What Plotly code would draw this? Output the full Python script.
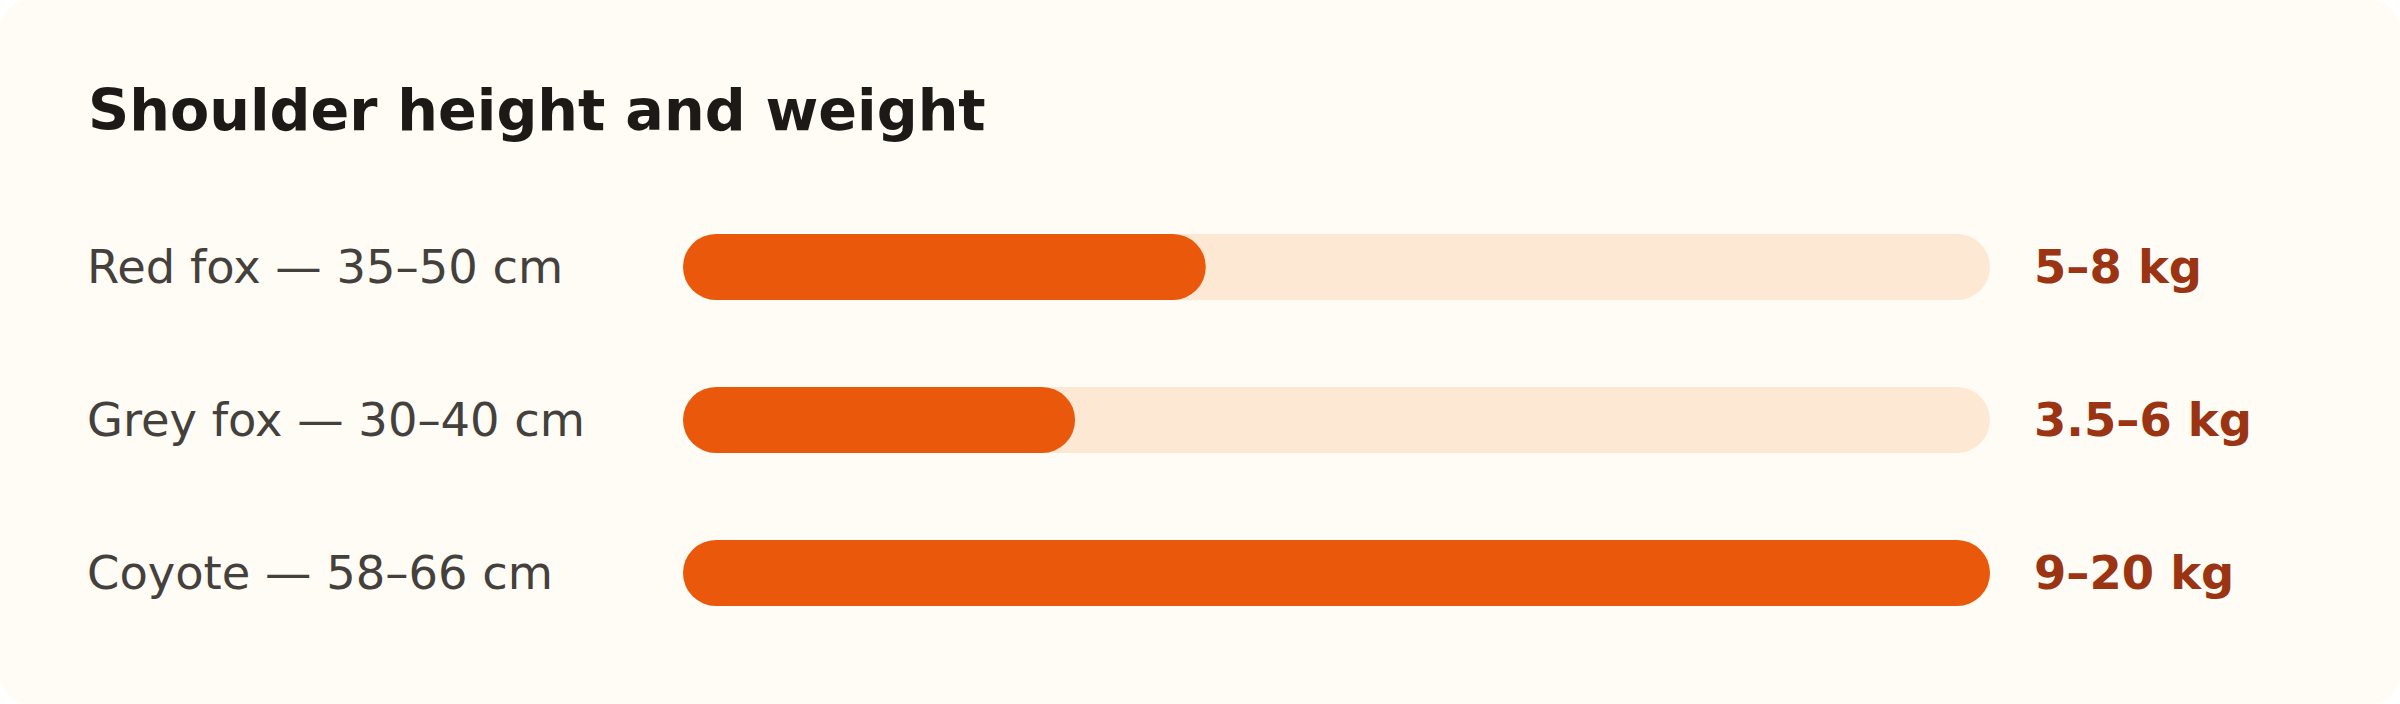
import plotly.graph_objects as go

# ---- data ----
species = ["Red fox", "Grey fox", "Coyote"]
height_min_cm = [35, 30, 58]
height_max_cm = [50, 40, 66]
weight_min_kg = [5, 3.5, 9]
weight_max_kg = [8, 6, 20]
title_text = "Shoulder height and weight"

# ---- styling ----
W, H = 2400, 704
FONT = "DejaVu Sans"
CARD = "#FFFBF5"
TRACK = "#FDE8D3"
FILL = "#EA580C"
VALUE_COLOR = "#9A3412"
LABEL_COLOR = "#44403C"
TITLE_COLOR = "#1C1917"

scale_max = max(weight_max_kg)
rows = list(range(len(species)))

labels = [f"{s} — {a}–{b} cm" for s, a, b in zip(species, height_min_cm, height_max_cm)]
values = [f"{a:g}–{b:g} kg" for a, b in zip(weight_min_kg, weight_max_kg)]

# geometry (pixels)
bar_left_px, bar_right_px = 683, 1990
row_top_px, row_step_px = 267, 153
bar_h_px = 66

y_top = row_top_px - row_step_px / 2
y_bot = row_top_px + row_step_px * (len(species) - 1) + row_step_px / 2
# cap radius expressed in data units of the x axis
r_data = (bar_h_px / 2) * scale_max / (bar_right_px - bar_left_px)

fig = go.Figure()


def pill(values_, color):
    # thick straight segment between cap centres + round caps (markers) at both ends
    xs, ys = [], []
    for row, v in zip(rows, values_):
        xs += [r_data, v - r_data, None]
        ys += [row, row, None]
    fig.add_trace(go.Scatter(
        x=xs, y=ys, mode="lines+markers",
        line=dict(color=color, width=bar_h_px),
        marker=dict(size=bar_h_px, color=color, line=dict(width=0), symbol="circle"),
        hoverinfo="skip", showlegend=False))


pill([scale_max] * len(species), TRACK)
pill(weight_max_kg, FILL)

# card background with rounded corners
rx, ry = 30 / W, 30 / H
k = 0.5523
card_path = (
    f"M {rx},0 L {1-rx},0 C {1-rx+k*rx},0 1,{ry-k*ry} 1,{ry} "
    f"L 1,{1-ry} C 1,{1-ry+k*ry} {1-rx+k*rx},1 {1-rx},1 "
    f"L {rx},1 C {rx-k*rx},1 0,{1-ry+k*ry} 0,{1-ry} "
    f"L 0,{ry} C 0,{ry-k*ry} {rx-k*rx},0 {rx},0 Z"
)

annotations = [
    dict(text=title_text, xref="paper", yref="paper", x=86 / W, y=1 - 110 / H,
         xanchor="left", yanchor="middle", showarrow=False,
         font=dict(family=FONT, size=57.2, color=TITLE_COLOR, weight="bold"))
]
for i, (lab, val) in enumerate(zip(labels, values)):
    annotations.append(dict(text=lab, xref="paper", yref="y", x=85 / W, y=i,
                            xanchor="left", yanchor="middle", showarrow=False,
                            font=dict(family=FONT, size=46.4, color=LABEL_COLOR)))
    annotations.append(dict(text=val, xref="paper", yref="y", x=2032 / W, y=i,
                            xanchor="left", yanchor="middle", showarrow=False,
                            font=dict(family=FONT, size=46.4, color=VALUE_COLOR, weight="bold")))

fig.update_layout(
    width=W, height=H,
    margin=dict(l=0, r=0, t=0, b=0),
    paper_bgcolor="#FFFFFF",
    plot_bgcolor="rgba(0,0,0,0)",
    xaxis=dict(domain=[bar_left_px / W, bar_right_px / W], range=[0, scale_max],
               visible=False, fixedrange=True),
    yaxis=dict(domain=[1 - y_bot / H, 1 - y_top / H], range=[len(species) - 0.5, -0.5],
               visible=False, fixedrange=True),
    shapes=[dict(type="path", xref="paper", yref="paper", path=card_path,
                 fillcolor=CARD, line=dict(width=0), layer="below")],
    annotations=annotations,
    showlegend=False,
)

fig.write_html(
    "out.html",
    config={"displayModeBar": False},
    post_script="document.body.style.margin='0px';document.body.style.overflow='hidden';",
)
